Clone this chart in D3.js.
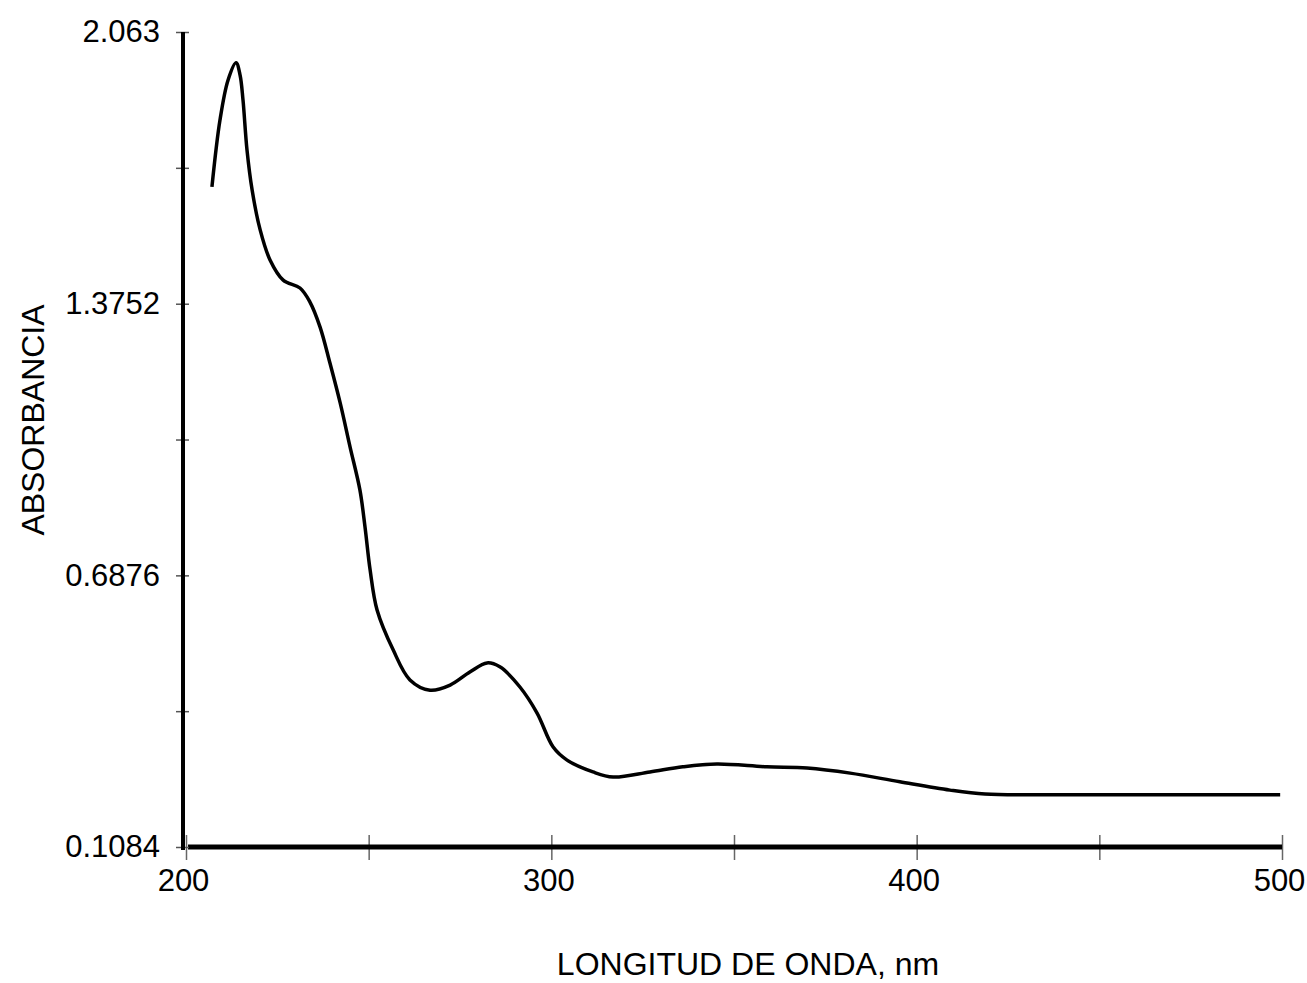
<!DOCTYPE html>
<html>
<head>
<meta charset="utf-8">
<script src="https://cdn.jsdelivr.net/npm/d3@7"></script>
<style>
  body { margin: 0; background: #fff; }
  text { font-family: "Liberation Sans", Arial, sans-serif; fill: #000; }
</style>
</head>
<body>
<div id="canvas"></div>
<script>
// wavelength (nm) and absorbance
const wavelength = [207.1, 209.3, 211.5, 213.7, 214.8, 215.6, 216.7, 218.1, 220.3, 223.0,
  226.6, 231.2, 233.9, 236.7, 239.4, 242.2, 244.9, 247.6, 249.0, 250.4,
  252.3, 256.7, 261.3, 266.8, 272.3, 277.7, 282.4, 285.9, 291.4, 296.1,
  300.5, 304.3, 311.4, 316.9, 327.0, 336.0, 345.3, 359.0, 370.0, 381.8,
  395.4, 409.1, 418.7, 436.5, 463.9, 499.5];
const absorbance = [1.671, 1.840, 1.941, 1.985, 1.954, 1.891, 1.764, 1.663, 1.562, 1.486,
  1.435, 1.415, 1.380, 1.316, 1.225, 1.124, 1.013, 0.904, 0.810, 0.701,
  0.600, 0.499, 0.423, 0.397, 0.410, 0.443, 0.466, 0.456, 0.405, 0.339,
  0.253, 0.220, 0.190, 0.177, 0.190, 0.203, 0.210, 0.203, 0.200, 0.187,
  0.165, 0.144, 0.134, 0.132, 0.132, 0.132];

const xTicks = [200, 250, 300, 350, 400, 450, 500];
const xTickLabels = ["200", "", "300", "", "400", "", "500"];
const yTicks = [0, 0.34383, 0.6876, 1.03143, 1.3752, 1.71917, 2.063];
const yTickLabels = ["0.1084", "", "0.6876", "", "1.3752", "", "2.063"];

const width = 1307, height = 983;
const margin = { top: 32, left: 186, bottom: 136, right: 25 };
const iwidth = width - margin.left - margin.right;
const iheight = height - margin.top - margin.bottom;

const svg = d3.select("#canvas").append("svg")
  .attr("width", width)
  .attr("height", height);

const g = svg.append("g").attr("transform", `translate(${margin.left},${margin.top})`);

const x = d3.scaleLinear().domain([200, 500]).range([0, iwidth]);
const y = d3.scaleLinear().domain([0, 2.063]).range([iheight, 0]);

// x axis
const xa = g.append("g")
  .attr("transform", `translate(0,${iheight})`)
  .call(d3.axisBottom(x).tickValues(xTicks).tickSize(0).tickPadding(22)
    .tickFormat((d, i) => xTickLabels[i]));
xa.select(".domain").remove();
xa.selectAll("text").style("font-size", "31px").attr("dx", "-3");
xa.selectAll(".tick").append("line")
  .attr("y1", -12).attr("y2", 13)
  .attr("stroke", "#666").attr("stroke-width", 1.5);
xa.append("line")
  .attr("x1", 2).attr("x2", iwidth)
  .attr("stroke", "#000").attr("stroke-width", 5);

// y axis
const ya = g.append("g")
  .attr("transform", "translate(-3,0)")
  .call(d3.axisLeft(y).tickValues(yTicks).tickSize(0).tickPadding(23)
    .tickFormat((d, i) => yTickLabels[i]));
ya.select(".domain").remove();
ya.selectAll("text").style("font-size", "31px");
ya.selectAll(".tick").append("line")
  .attr("x1", -7).attr("x2", 6)
  .attr("stroke", "#555").attr("stroke-width", 1.5);
ya.append("line")
  .attr("y1", 0).attr("y2", iheight + 3)
  .attr("stroke", "#000").attr("stroke-width", 4);

// spectrum
const data = wavelength.map((w, i) => ({ w: w, a: absorbance[i] }));
g.append("path")
  .datum(data)
  .attr("fill", "none")
  .attr("stroke", "#000")
  .attr("stroke-width", 3.5)
  .attr("d", d3.line().x(d => x(d.w)).y(d => y(d.a)).curve(d3.curveCatmullRom));

// titles
svg.append("text")
  .attr("x", 748).attr("y", 975)
  .attr("text-anchor", "middle")
  .style("font-size", "32px")
  .text("LONGITUD DE ONDA, nm");

svg.append("text")
  .attr("transform", "translate(44,420) rotate(-90)")
  .attr("text-anchor", "middle")
  .style("font-size", "32px")
  .text("ABSORBANCIA");
</script>
</body>
</html>
